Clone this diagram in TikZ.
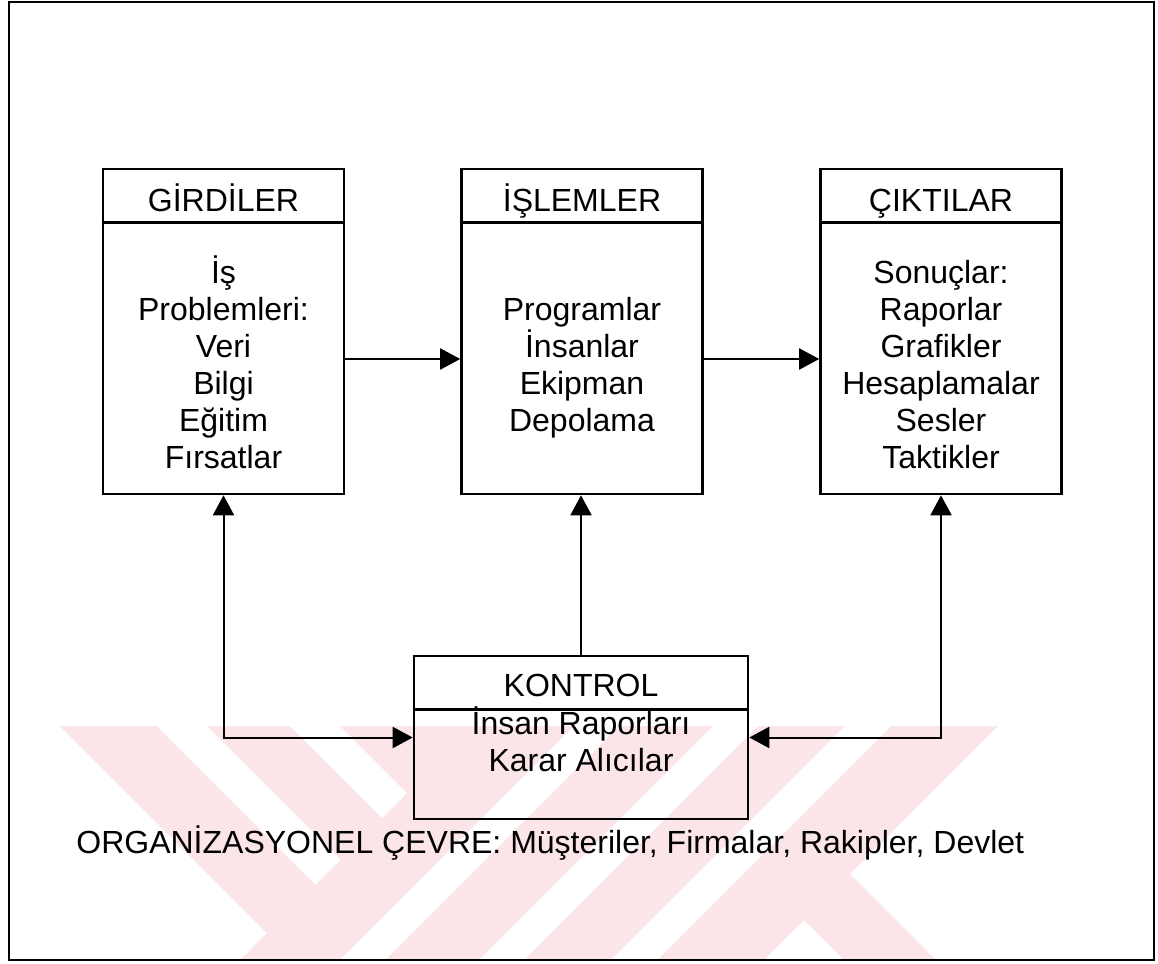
\documentclass[tikz,border=0pt]{standalone}
\usepackage{fontspec}
\setmainfont{Liberation Sans}
\usetikzlibrary{arrows.meta}
\definecolor{wmpink}{RGB}{252,229,232}
\begin{document}
\begin{tikzpicture}[x=0.5pt,y=-0.5pt,
  box/.style={draw, line width=1.3pt, minimum width=120.5pt, minimum height=162.5pt, inner sep=0pt},
  ctrlbox/.style={draw, line width=1.3pt, minimum width=167pt, minimum height=81.5pt, inner sep=0pt},
  txt/.style={font=\fontsize{16}{18.5}\selectfont, inner sep=0pt, anchor=base, align=center},
  divider/.style={line width=1.3pt},
  flow/.style={line width=1pt, -{Triangle[length=10pt,width=10.5pt]}},
  twoway/.style={line width=1pt, {Triangle[length=10pt,width=10.5pt]}-{Triangle[length=10pt,width=10.5pt]}}]
\useasboundingbox (0,0) rectangle (1158,964);

% pale striped emblem in the lower part of the page
\begin{scope}
  \clip (10,726) rectangle (1153,959);
  \fill[wmpink] (60,726) -- (998,726) -- (754,970) -- (304,970) -- cycle;
  \fill[wmpink] (474,726) -- (713,726) -- (469,970) -- (230,970) -- cycle;
  \fill[wmpink] (850,874) -- (946,970) -- (854,970) -- (804,920) -- cycle;
  \fill[white] (157,726) -- (207,726) -- (340.5,859.5) -- (315.5,884.5) -- cycle;
  \fill[white] (290,726) -- (340,726) -- (407,793) -- (382,818) -- cycle;
  \fill[white] (574,726) -- (619,726) -- (375,970) -- (330,970) -- cycle;
  \fill[white] (713,726) -- (758,726) -- (514,970) -- (469,970) -- cycle;
  \fill[white] (845,726) -- (891,726) -- (647,970) -- (601,970) -- cycle;
\end{scope}

% page frame
\draw[line width=1pt] (9,2) rectangle (1154,960);

% the three stages
\node[box] (girdi) at (223.5,331.5) {};
\node[box] (islem) at (582,331.5) {};
\node[box] (cikti) at (941,331.5) {};
\foreach \b in {girdi,islem,cikti}
  \draw[divider] ([yshift=-27.5pt]\b.north west) -- ([yshift=-27.5pt]\b.north east);

\node[txt] (girdiT) at (223.5,211.5) {GİRDİLER};
\node[txt] (islemT) at (582,211.5) {İŞLEMLER};
\node[txt] (ciktiT) at (941,211.5) {ÇIKTILAR};

% base anchor sits on the last line of each block
\node[txt] (girdiB) at (223.5,468) {İş\\Problemleri:\\Veri\\Bilgi\\Eğitim\\Fırsatlar};
\node[txt] (islemB) at (582,431) {Programlar\\İnsanlar\\Ekipman\\Depolama};
\node[txt] (ciktiB) at (941,468) {Sonuçlar:\\Raporlar\\Grafikler\\Hesaplamalar\\Sesler\\Taktikler};

% control unit
\node[ctrlbox] (kontrol) at (581,737.5) {};
\draw[divider] ([yshift=-27.5pt]kontrol.north west) -- ([yshift=-27.5pt]kontrol.north east);
\node[txt] (kontrolT) at (581,696.5) {KONTROL};
\node[txt] (kontrolB) at (581,771) {İnsan Raporları\\Karar Alıcılar};

% environment caption
\node[txt, anchor=base west] (cevre) at (76,853) {ORGANİZASYONEL ÇEVRE: Müşteriler, Firmalar, Rakipler, Devlet};

% flows
\draw[flow] ([yshift=-13.75pt]girdi.east) -- ([yshift=-13.75pt]islem.west);
\draw[flow] ([yshift=-13.75pt]islem.east) -- ([yshift=-13.75pt]cikti.west);
\draw[flow] (kontrol.north) -- (kontrol.north |- islem.south);
\draw[twoway] (girdi.south) -- (girdi.south |- kontrol.west) -- (kontrol.west);
\draw[twoway] (cikti.south) -- (cikti.south |- kontrol.east) -- (kontrol.east);
\end{tikzpicture}
\end{document}
